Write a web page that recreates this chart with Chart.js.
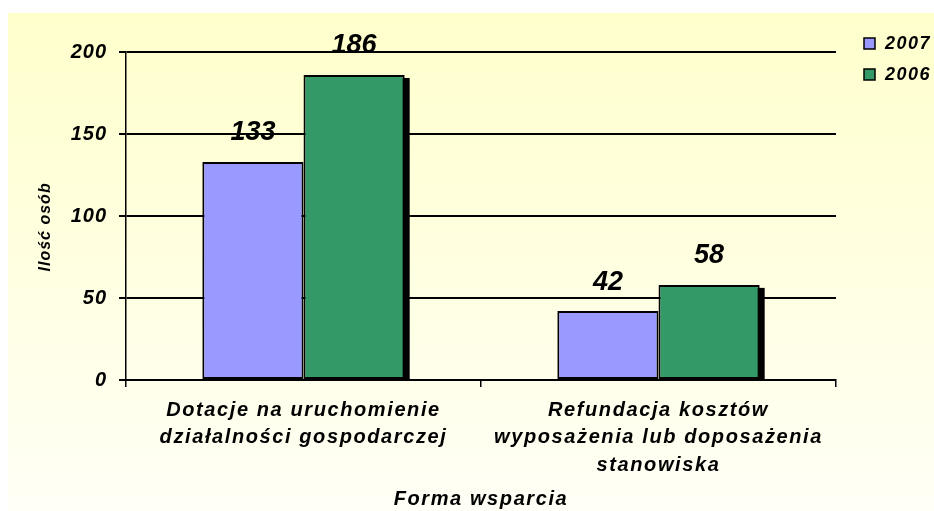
<!DOCTYPE html>
<html lang="pl">
<head>
<meta charset="UTF-8">
<title>Forma wsparcia</title>
<script src="https://cdn.jsdelivr.net/npm/chart.js@4.4.0/dist/chart.umd.min.js"></script>
<style>
    body { margin: 0; background: #fff; }
    canvas { display: block; }
</style>
</head>
<body>
<canvas id="myChart" width="934" height="511"></canvas>

<script>
    var categories = [
        ['Dotacje na uruchomienie', 'działalności gospodarczej'],
        ['Refundacja kosztów', 'wyposażenia lub doposażenia', 'stanowiska']
    ];
    var seriesNames = ['2007', '2006'];
    var values2007 = [133, 42];
    var values2006 = [186, 58];
    var yTicks = [0, 50, 100, 150, 200];

    var FONT = "Arial, 'Liberation Sans', sans-serif";

    function font(size, lh) {
        return { family: FONT, size: size, style: 'italic', weight: 'bold', lineHeight: lh || 1.2 };
    }

    // background, bar shadow, value labels and legend
    var decor = {
        id: 'decor',
        beforeDraw: function (chart) {
            var c = chart.ctx;
            c.letterSpacing = '1px';
            var g = c.createLinearGradient(0, 13, 0, chart.height);
            g.addColorStop(0, '#FFFFCC');
            g.addColorStop(1, '#FFFFF6');
            c.fillStyle = g;
            c.fillRect(8, 13, chart.width - 8, chart.height - 13);
        },
        beforeDatasetDraw: function (chart, args) {
            // black drop shadow behind the 2006 bars
            if (args.index !== 1) return;
            var c = chart.ctx;
            c.save();
            c.fillStyle = '#000';
            args.meta.data.forEach(function (bar) {
                var p = bar.getProps(['x', 'y', 'width', 'base'], true);
                c.fillRect(p.x - p.width / 2 + 5, p.y + 3, p.width, p.base - p.y - 3);
            });
            c.restore();
        },
        afterDatasetsDraw: function (chart) {
            var c = chart.ctx;
            c.save();
            c.letterSpacing = '0px';
            c.font = 'italic bold 27px ' + FONT;
            c.fillStyle = '#000';
            c.textAlign = 'center';
            c.textBaseline = 'middle';
            chart.data.datasets.forEach(function (ds, i) {
                chart.getDatasetMeta(i).data.forEach(function (bar, j) {
                    c.fillText(String(ds.data[j]), bar.x, bar.y - 29);
                });
            });
            c.restore();
            // wide spacing for the category axis drawn next
            c.letterSpacing = '1.6px';
        },
        afterDraw: function (chart) {
            var c = chart.ctx;
            var x = chart.chartArea.right + 28;
            c.save();
            c.letterSpacing = '1.5px';
            c.font = 'italic bold 18px ' + FONT;
            c.textBaseline = 'middle';
            c.textAlign = 'left';
            chart.data.datasets.forEach(function (ds, i) {
                var y = 38 + i * 31;
                c.fillStyle = ds.backgroundColor;
                c.fillRect(x, y, 11, 11);
                c.strokeStyle = '#000';
                c.lineWidth = 1.5;
                c.strokeRect(x, y, 11, 11);
                c.fillStyle = '#000';
                c.fillText(ds.label, x + 21, y + 6);
            });
            c.restore();
            c.letterSpacing = '0px';
        }
    };

    var ctx = document.getElementById('myChart').getContext('2d');
    new Chart(ctx, {
        type: 'bar',
        data: {
            labels: categories,
            datasets: [
                {
                    label: seriesNames[0],
                    data: values2007,
                    backgroundColor: '#9999FF',
                    borderColor: '#000',
                    borderWidth: 2,
                    borderSkipped: false
                },
                {
                    label: seriesNames[1],
                    data: values2006,
                    backgroundColor: '#339966',
                    borderColor: '#000',
                    borderWidth: 2,
                    borderSkipped: false
                }
            ]
        },
        options: {
            responsive: false,
            animation: false,
            categoryPercentage: 0.57,
            barPercentage: 1,
            layout: { padding: { top: 52, right: 98, bottom: 0, left: 0 } },
            plugins: {
                legend: { display: false },
                tooltip: { enabled: false }
            },
            scales: {
                x: {
                    grid: { drawOnChartArea: false, tickLength: 7, color: '#000', lineWidth: 1.5, z: 1 },
                    border: { color: '#000', width: 2, z: 1 },
                    ticks: { color: '#000', font: font(20, 1.36), padding: 10, maxRotation: 0, autoSkip: false, z: 1 },
                    title: { display: true, text: 'Forma wsparcia', color: '#000', font: font(20), padding: { top: 0, bottom: 0 } },
                    afterFit: function (s) { s.height = 131; }
                },
                y: {
                    min: yTicks[0],
                    max: yTicks[yTicks.length - 1],
                    ticks: { stepSize: yTicks[1] - yTicks[0], color: '#000', font: font(20), padding: 12 },
                    grid: { color: '#000', lineWidth: 2, tickLength: 7 },
                    border: { color: '#000', width: 1.5 },
                    title: { display: true, text: 'Ilość osób\u00a0\u00a0\u00a0\u00a0', color: '#000', font: font(16), padding: { top: 36, bottom: 0 } },
                    afterFit: function (s) { s.width = 126; }
                }
            }
        },
        plugins: [decor]
    });
</script>
</body>
</html>
